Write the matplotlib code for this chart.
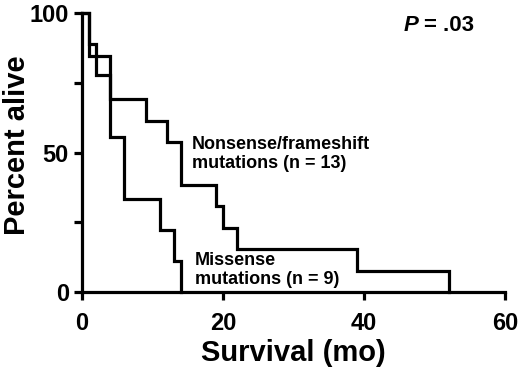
import matplotlib
matplotlib.use("Agg")
import matplotlib.pyplot as plt

plt.rcParams['font.family'] = ['Liberation Sans', 'DejaVu Sans']
plt.rcParams['font.weight'] = 'bold'

# Kaplan-Meier step data (time in months, percent alive)
nonsense_t = [0, 1, 4, 9, 12, 14, 19, 20, 22, 39, 52]
nonsense_s = [100, 84.6, 69.2, 61.5, 53.8, 38.5, 30.8, 23.1, 15.4, 7.7, 0]
missense_t = [0, 1, 2, 4, 6, 11, 13, 14]
missense_s = [100, 88.9, 77.8, 55.6, 33.3, 22.2, 11.1, 0]

xticks = [0, 20, 40, 60]
yticks = [0, 25, 50, 75, 100]
yticklabels = ['0', '', '50', '', '100']

fig = plt.figure(figsize=(5.2, 3.75), dpi=100)
ax = fig.add_axes([0.158, 0.221, 0.813, 0.744])

lw = 2.3
ax.step(nonsense_t, nonsense_s, where='post', color='black', lw=lw, solid_joinstyle='miter', clip_on=False)
ax.step(missense_t, missense_s, where='post', color='black', lw=lw, solid_joinstyle='miter', clip_on=False)

ax.set_xlim(0, 60)
ax.set_ylim(0, 100)
ax.set_xticks(xticks)
ax.set_yticks(yticks)
ax.set_yticklabels(yticklabels)
ax.tick_params(axis='both', direction='out', length=5.5, width=2.3, labelsize=17)
ax.tick_params(axis='x', pad=9)
ax.tick_params(axis='y', pad=4)
for lbl in ax.get_xticklabels() + ax.get_yticklabels():
    lbl.set_fontweight('bold')
for s in ['top', 'right']:
    ax.spines[s].set_visible(False)
for s in ['left', 'bottom']:
    ax.spines[s].set_linewidth(2.3)

ax.set_xlabel('Survival (mo)', fontsize=21, fontweight='bold', labelpad=3)
ax.set_ylabel('Percent alive', fontsize=21, fontweight='bold')
ax.yaxis.set_label_coords(-0.122, 0.527)

ax.text(15.6, 56.0, 'Nonsense/frameshift\nmutations (n = 13)', fontsize=13, fontweight='bold',
        va='top', ha='left', linespacing=1.2)
ax.text(16.0, 14.5, 'Missense\nmutations (n = 9)', fontsize=13, fontweight='bold',
        va='top', ha='left', linespacing=1.2)
ax.annotate('P', xy=(45.6, 99.5), fontsize=16, fontweight='bold', fontstyle='italic',
            va='top', ha='left')
ax.annotate('= .03', xy=(45.6, 99.5), xytext=(15, 0), textcoords='offset points',
            fontsize=16, fontweight='bold', va='top', ha='left')
fig.savefig('out.png', dpi=100)
